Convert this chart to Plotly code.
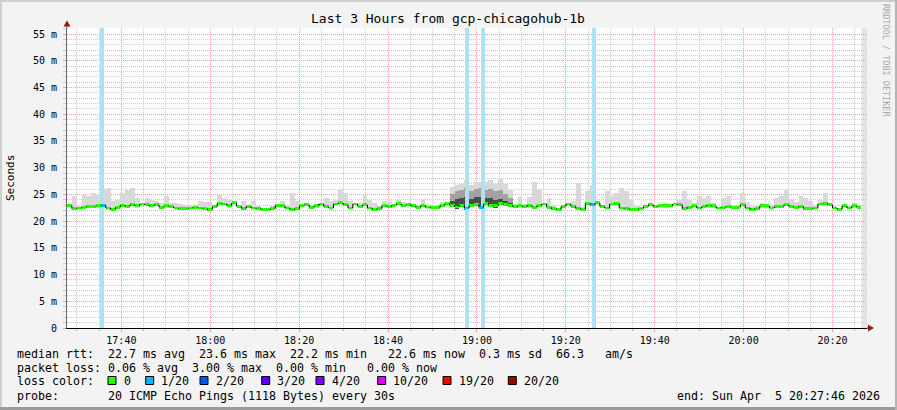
import pandas as pd
import plotly.graph_objects as go

# ------------------------------------------------------------------ data
title_text = "Last 3 Hours from gcp-chicagohub-1b"
start_time = "2026-04-05 17:27:46"
end_time = "2026-04-05 20:27:46"
step_seconds = 65.4

median_rtt_ms = [
    22.89, 22.33, 22.45, 22.58, 22.70, 22.70, 22.83, 22.95, 22.45, 22.14,
    22.58, 22.95, 22.76, 23.07, 22.83, 23.20, 23.07, 22.83, 23.07, 22.58,
    22.83, 22.70, 22.45, 22.33, 22.33, 22.45, 22.58, 22.45, 22.33, 22.14,
    22.70, 23.32, 23.20,
    22.89, 23.39, 22.76, 22.33, 22.76, 22.45, 22.33, 22.14, 22.14, 22.33,
    22.95, 22.83, 22.45, 22.14, 22.33, 22.95, 23.07, 22.58, 22.83, 23.20,
    22.70, 22.45, 23.20, 23.39, 23.07, 22.45, 23.20, 22.76, 23.07, 22.45,
    22.14, 22.33, 22.83,
    22.70, 22.95, 23.26, 22.95, 23.07, 22.83, 22.58, 22.95, 22.64, 22.51,
    22.51, 22.95, 23.26, 22.95, 22.64, 22.95, 22.45, 22.95, 23.07, 22.58,
    23.26, 22.95, 22.83, 23.26, 23.07, 22.95, 22.70, 22.83, 22.70, 22.95,
    22.58, 22.95, 23.20,
    22.58, 22.33, 22.14, 22.76, 23.20, 22.76, 22.33, 22.14, 23.32, 23.07,
    23.39, 22.70, 22.45, 23.20, 23.32, 22.45, 22.33, 22.14, 22.14, 22.33,
    22.70, 23.07, 22.70, 22.83, 22.83, 22.83, 23.20, 23.07, 22.33, 22.58,
    22.83, 22.45, 22.70,
    22.95, 22.83, 22.45, 22.58, 22.70, 22.58, 22.58, 23.07, 22.45, 22.14,
    22.33, 22.83, 22.83, 22.45, 22.70, 22.76, 23.07, 22.70, 22.58, 22.76,
    22.33, 22.33, 22.45, 23.20, 23.32, 23.07, 22.45, 22.20, 22.83, 22.45,
    22.83, 22.58,
]

smoke_top_ms = [
    23.20, 24.63, 23.07, 24.82, 24.63, 25.26, 24.94, 26.00, 26.20, 23.70,
    24.01, 25.26, 25.88, 26.19, 24.32, 23.39, 24.32, 24.01, 23.70, 23.39,
    24.63, 23.39, 23.39, 23.20, 23.07, 23.07, 23.07, 23.70, 23.57, 23.57,
    23.07, 24.82, 24.32,
    24.20, 23.70, 23.07, 23.70, 23.07, 23.82, 22.76, 22.45, 22.45, 22.76,
    23.20, 23.70, 23.07, 25.26, 23.70, 22.58, 23.39, 23.07, 23.20, 23.39,
    24.32, 23.70, 24.01, 25.88, 25.26, 23.70, 22.76, 23.39, 24.94, 24.01,
    23.39, 22.76, 23.70,
    23.57, 23.26, 23.88, 23.57, 23.26, 23.26, 22.95, 24.20, 22.95, 22.95,
    22.95, 23.57, 23.57, 26.38, 26.69, 27.00, 27.63, 26.69, 27.31, 27.31,
    27.31, 27.63, 27.00, 27.94, 27.00, 25.76, 23.26, 24.51, 23.26, 24.51,
    27.31, 26.07, 22.95,
    24.32, 23.07, 22.45, 22.76, 23.39, 23.70, 27.13, 22.58, 25.57, 26.80,
    23.70, 23.07, 25.57, 24.63, 25.26, 26.19, 25.57, 24.01, 22.76, 22.45,
    23.07, 23.39, 23.07, 23.07, 23.39, 22.76, 23.39, 24.01, 25.57, 24.01,
    23.39, 24.63, 24.32,
    24.63, 23.39, 22.58, 24.32, 24.63, 23.07, 23.07, 25.26, 23.57, 22.76,
    23.07, 23.39, 23.07, 23.07, 24.32, 24.63, 25.88, 24.01, 23.57, 24.63,
    24.32, 23.70, 23.07, 24.01, 25.26, 23.39, 22.76, 22.45, 23.20, 23.07,
    23.39, 22.95,
]

# dense (darker) smoke around 19:00
dense_first_block = 79
dense_top_ms = [25.0, 25.6, 25.8, 26.2, 25.6, 26.0, 26.2, 25.8, 26.0, 25.6, 25.8, 25.0, 24.4]
core_top_ms = [23.8, 24.2, 24.4, 24.6, 24.2, 24.5, 24.6, 24.3, 24.4, 24.0, 24.2, 23.8, 23.4]

loss_times = ["2026-04-05 17:35:45", "2026-04-05 18:57:46",
              "2026-04-05 19:01:22", "2026-04-05 19:26:14"]

loss_legend_labels = ["0", "1/20", "2/20", "3/20", "4/20", "10/20", "19/20", "20/20"]
loss_legend_colors = ["#26ff00", "#00b8ff", "#0059ff", "#5e00ff",
                      "#7e00ff", "#dd00ff", "#ff0000", "#a10000"]

x_tick_times = ["2026-04-05 17:40", "2026-04-05 18:00", "2026-04-05 18:20",
                "2026-04-05 18:40", "2026-04-05 19:00", "2026-04-05 19:20",
                "2026-04-05 19:40", "2026-04-05 20:00", "2026-04-05 20:20"]
x_tick_labels = ["17:40", "18:00", "18:20", "18:40", "19:00", "19:20",
                 "19:40", "20:00", "20:20"]
y_tick_values = [0, 5, 10, 15, 20, 25, 30, 35, 40, 45, 50, 55]
y_tick_labels = ["0", "5 m", "10 m", "15 m", "20 m", "25 m", "30 m",
                 "35 m", "40 m", "45 m", "50 m", "55 m"]

median_line_text = "median rtt:  22.7 ms avg  23.6 ms max  22.2 ms min   22.6 ms now  0.3 ms sd  66.3   am/s"
loss_line_text = "packet loss: 0.06 % avg  3.00 % max  0.00 % min   0.00 % now"
loss_color_text = "loss color:"
probe_text = "probe:       20 ICMP Echo Pings (1118 Bytes) every 30s"
end_text = "end: Sun Apr  5 20:27:46 2026"
credit_text = "RRDTOOL / TOBI OETIKER"

# ------------------------------------------------------------------ geometry helpers
W, H = 897, 410
L, R, T, B = 67, 30, 28, 82
PW, PH = W - L - R, H - T - B
Y_TOP = 56.13


def px(x):
    return (x - L) / PW


def py(y):
    return (H - B - y) / PH


MONO = "DejaVu Sans Mono"
LEGEND_SIZE = 11.63

# ------------------------------------------------------------------ derived series
t0 = pd.Timestamp(start_time)
step = pd.Timedelta(seconds=step_seconds)
n = len(median_rtt_ms)
block_start = [t0 + step * i for i in range(n)]
block_mid = [t + step / 2 for t in block_start]
step_ms = step_seconds * 1000.0

loss_ts = [pd.Timestamp(t) for t in loss_times]
median_colors = []
for t in block_start:
    lost = any(t <= lt < t + step for lt in loss_ts)
    median_colors.append(loss_legend_colors[1] if lost else loss_legend_colors[0])

smoke_base = [m - 0.3 for m in median_rtt_ms]
smoke_h = [max(s - b, 0) for s, b in zip(smoke_top_ms, smoke_base)]

dense_x = block_mid[dense_first_block:dense_first_block + len(dense_top_ms)]
dense_base = smoke_base[dense_first_block:dense_first_block + len(dense_top_ms)]

# vertical connectors of the median step line
conn_x, conn_y = [], []
for i in range(1, n):
    conn_x += [block_start[i], block_start[i], None]
    conn_y += [median_rtt_ms[i - 1], median_rtt_ms[i], None]

fig = go.Figure()

# light smoke
fig.add_trace(go.Bar(x=block_mid, y=smoke_h, base=smoke_base, width=step_ms,
                     marker=dict(color="#d8d8d8", line=dict(width=0)), hoverinfo="skip"))
# medium smoke
fig.add_trace(go.Bar(x=dense_x, y=[d - b for d, b in zip(dense_top_ms, dense_base)],
                     base=dense_base, width=step_ms,
                     marker=dict(color="#a2a2a2", line=dict(width=0)), hoverinfo="skip"))
# dark smoke core
fig.add_trace(go.Bar(x=dense_x, y=[c - b for c, b in zip(core_top_ms, dense_base)],
                     base=dense_base, width=step_ms,
                     marker=dict(color="#4c4c4c", line=dict(width=0)), hoverinfo="skip"))
# loss bars
fig.add_trace(go.Bar(x=loss_ts, y=[Y_TOP] * len(loss_ts), base=0, width=54000,
                     marker=dict(color="#ade2f6", line=dict(width=0)), hoverinfo="skip"))
# median coloured segments
fig.add_trace(go.Bar(x=block_mid, y=[0.55] * n, base=[m - 0.27 for m in median_rtt_ms],
                     width=step_ms, marker=dict(color=median_colors, line=dict(width=0)),
                     hoverinfo="skip"))
# black vertical connectors
fig.add_trace(go.Scatter(x=conn_x, y=conn_y, mode="lines",
                         line=dict(color="#000000", width=1), hoverinfo="skip",
                         connectgaps=False))

# unknown (no data yet) band at the right end
data_end = block_start[-1] + step
shapes = [dict(type="rect", xref="x", yref="paper", x0=data_end, x1=pd.Timestamp(end_time),
               y0=0, y1=1, fillcolor="#e4e4e4", line=dict(width=0), layer="below")]

# axis extensions and arrows
arrow = "#8f1c1c"
shapes += [
    dict(type="line", xref="paper", yref="paper", x0=0, x1=0, y0=1, y1=py(24),
         line=dict(color="#666666", width=1)),
    dict(type="path", xref="paper", yref="paper",
         path=f"M {px(63.5)} {py(26.5)} L {px(70.5)} {py(26.5)} L {px(67)} {py(20.5)} Z",
         fillcolor=arrow, line=dict(width=0)),
    dict(type="line", xref="paper", yref="paper", x0=1, x1=px(870), y0=0, y1=0,
         line=dict(color="#000000", width=1)),
    dict(type="path", xref="paper", yref="paper",
         path=f"M {px(868)} {py(324.5)} L {px(868)} {py(331.5)} L {px(874)} {py(328)} Z",
         fillcolor=arrow, line=dict(width=0)),
]

# outer frame
shapes += [
    dict(type="line", xref="paper", yref="paper", x0=px(0), x1=px(W), y0=py(1), y1=py(1),
         line=dict(color="#cfcfcf", width=2)),
    dict(type="line", xref="paper", yref="paper", x0=px(1), x1=px(1), y0=py(0), y1=py(H),
         line=dict(color="#cfcfcf", width=2)),
    dict(type="line", xref="paper", yref="paper", x0=px(0), x1=px(W), y0=py(H - 1.5), y1=py(H - 1.5),
         line=dict(color="#9a9a9a", width=3)),
    dict(type="line", xref="paper", yref="paper", x0=px(W - 1), x1=px(W - 1), y0=py(0), y1=py(H),
         line=dict(color="#b4b4b4", width=2)),
]

annotations = []


def text(x, y, s, size=LEGEND_SIZE, anchor="left", color="#000000", angle=0):
    annotations.append(dict(x=px(x), y=py(y), xref="paper", yref="paper", text=s,
                            showarrow=False, xanchor=anchor, yanchor="middle",
                            textangle=angle, borderpad=0,
                            font=dict(family=MONO, size=size, color=color)))


text(448, 19, title_text, size=13, anchor="center")
text(10, 178, "Seconds", size=11, anchor="center", angle=-90)
text(886, 60, credit_text, size=8.5, anchor="center", color="#a8a8a8", angle=90)
text(16, 354, median_line_text.replace(" ", "&nbsp;"))
text(16, 368, loss_line_text.replace(" ", "&nbsp;"))
text(16, 381.5, loss_color_text)
text(16, 396, probe_text.replace(" ", "&nbsp;"))
text(881, 396, end_text.replace(" ", "&nbsp;"), anchor="right")

legend_square_x = [108, 145.7, 200, 261.7, 316, 377.7, 443, 508.3]
for sx, lab, col in zip(legend_square_x, loss_legend_labels, loss_legend_colors):
    shapes.append(dict(type="rect", xref="paper", yref="paper",
                       x0=px(sx), x1=px(sx + 8), y0=py(384.5), y1=py(376.5),
                       fillcolor=col, line=dict(color="#000000", width=1)))
    text(sx + 14.5, 381.5, lab)

fig.update_layout(
    width=W, height=H,
    margin=dict(l=L, r=R, t=T, b=B, pad=0, autoexpand=False),
    paper_bgcolor="#f3f3f3", plot_bgcolor="#ffffff",
    barmode="overlay", bargap=0, showlegend=False,
    font=dict(family=MONO, size=10, color="#000000"),
    shapes=shapes, annotations=annotations,
)

fig.update_xaxes(
    type="date", range=[t0, pd.Timestamp(end_time)], automargin=False,
    tickmode="array", tickvals=[pd.Timestamp(t) for t in x_tick_times], ticktext=x_tick_labels,
    showgrid=True, gridcolor="#f0a0a0", griddash="1px,1px", gridwidth=1,
    minor=dict(tickmode="linear", tick0="2026-04-05 17:30:00", dtick=300000,
               showgrid=True, gridcolor="#cccccc", griddash="1px,1px",
               ticks="outside", ticklen=2, tickcolor="#bbbbbb"),
    showline=True, linecolor="#000000", linewidth=1,
    ticks="outside", ticklen=3, tickcolor="#e8a0a0",
    zeroline=False, tickfont=dict(family=MONO, size=10, color="#000000"),
    fixedrange=True,
)
fig.update_yaxes(
    range=[0, Y_TOP], automargin=False,
    tickmode="array", tickvals=y_tick_values, ticktext=y_tick_labels,
    showgrid=True, gridcolor="#f0a0a0", griddash="1px,1px", gridwidth=1,
    minor=dict(tickmode="linear", tick0=0, dtick=1, showgrid=True, gridcolor="#cccccc",
               griddash="1px,1px", ticks="outside", ticklen=3, tickcolor="#cccccc"),
    showline=True, linecolor="#666666", linewidth=1,
    ticks="outside", ticklen=3, tickcolor="#e8a0a0",
    zeroline=False, tickfont=dict(family=MONO, size=10, color="#000000"),
    ticklabelstandoff=4, fixedrange=True,
)

fig.write_html("out.html", config={"displayModeBar": False},
               post_script="document.body.style.margin='0';document.body.style.padding='0';")
